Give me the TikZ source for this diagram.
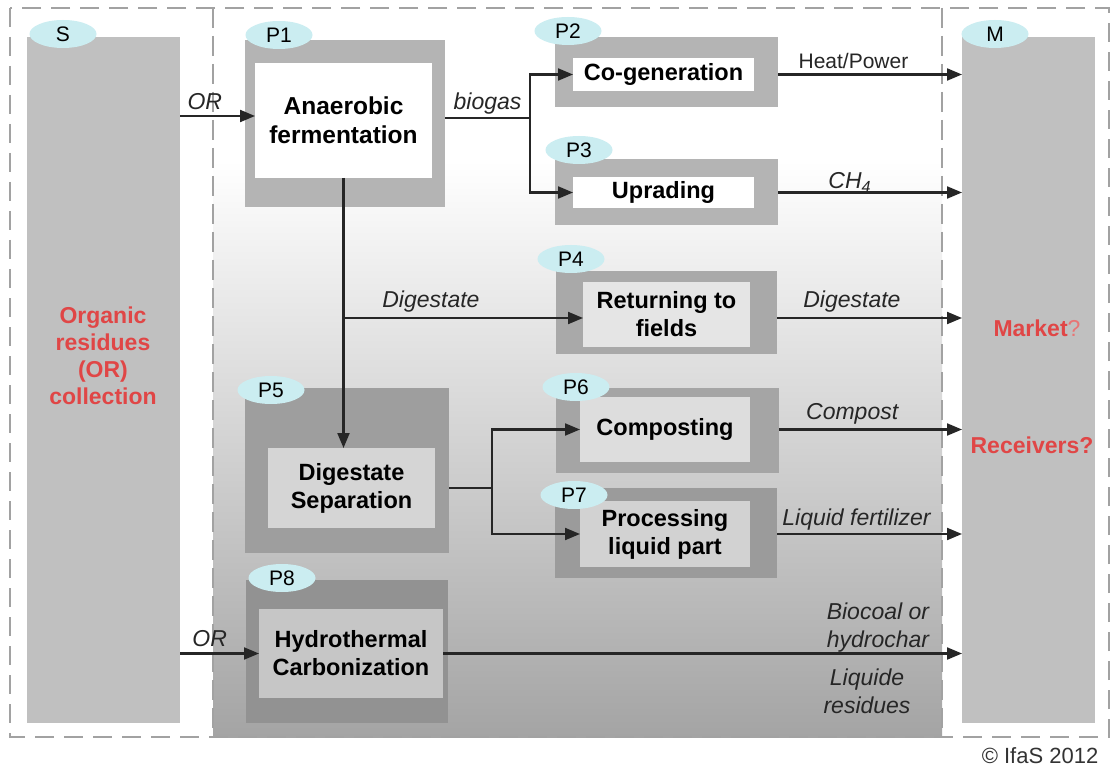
\documentclass[tikz,border=0pt]{standalone}
\usepackage{fontspec}
\setmainfont{Liberation Sans}
\usetikzlibrary{shapes.geometric,arrows.meta}

\definecolor{column}{HTML}{C0C0C0}
\definecolor{tagfill}{HTML}{CBEDF1}
\definecolor{alertred}{HTML}{E04646}
\definecolor{dashgray}{HTML}{A2A2A2}
\definecolor{wirecol}{HTML}{262626}
\definecolor{frameA}{HTML}{B4B4B4}
\definecolor{frameB}{HTML}{A9A9A9}
\definecolor{frameC}{HTML}{9E9E9E}
\definecolor{frameD}{HTML}{A5A5A5}
\definecolor{frameE}{HTML}{9B9B9B}
\definecolor{frameF}{HTML}{929292}
\definecolor{coreB}{HTML}{E5E5E5}
\definecolor{coreC}{HTML}{D5D5D5}
\definecolor{coreD}{HTML}{DDDDDD}
\definecolor{coreE}{HTML}{D2D2D2}
\definecolor{coreF}{HTML}{C6C6C6}
\definecolor{shadeMid}{HTML}{D8D8D8}
\definecolor{shadeLow}{HTML}{A4A4A4}

\newcommand\txtsize{\fontsize{23}{28}\selectfont}
\newcommand\boxsize{\fontsize{23.5}{28}\selectfont}
\newcommand\bigboxsize{\fontsize{24.5}{29}\selectfont}
\newcommand\tagsize{\fontsize{21}{25}\selectfont}

\begin{document}
\begin{tikzpicture}[x=1pt,y=-1pt,
  outerframe/.style={draw=dashgray, line width=2.5pt, dash pattern=on 19pt off 10pt},
  innerframe/.style={draw=dashgray, line width=1.5pt, dash pattern=on 20pt off 8pt},
  block/.style={anchor=north west, inner sep=0pt, outer sep=0pt, draw=none},
  shell/.style={block, fill=#1},
  core/.style={block, fill=#1, font=\boxsize\bfseries, align=center},
  tag/.style={ellipse, fill=tagfill, minimum width=67pt, minimum height=28pt,
              inner sep=0pt, font=\tagsize},
  wire/.style={draw=wirecol, line width=2.1pt},
  flow/.style={wire, -{Triangle[length=15pt,width=12pt]}},
  lbl/.style={font=\txtsize\itshape, inner sep=0pt, anchor=base, text=black!85},
  redtext/.style={font=\txtsize\bfseries, text=alertred, align=center},
]
\useasboundingbox (0,0) rectangle (1113,767);
\fill[white] (0,0) rectangle (1113,767);

% process area with its vertical gradient
\fill[white] (213,8) rectangle (942,161);
\shade[top color=white, middle color=shadeMid, bottom color=shadeLow]
  (213,160) rectangle (942,737);

% dashed frames
\draw[outerframe] (10,8) rectangle (1109,737);
\draw[innerframe] (213,8) -- (213,737);
\draw[innerframe] (942,8) -- (942,737);

% source and market columns
\node[shell=column, minimum width=153pt, minimum height=686pt] (scol) at (27,37) {};
\node[shell=column, minimum width=133pt, minimum height=686pt] (mcol) at (962,37) {};
\node[redtext, font=\fontsize{23}{27}\selectfont\bfseries] (stext) at (103,356)
  {Organic\\residues\\(OR)\\collection};
\node[redtext] (mkt) at (1037,328) {Market{\mdseries\color{alertred!75}?}};
\node[redtext] (rcv) at (1032,445) {Receivers?};

% process blocks
\node[shell=frameA, minimum width=200pt, minimum height=167pt] (p1o) at (245,40) {};
\node[core=white, font=\bigboxsize\bfseries, minimum width=177pt, minimum height=115pt] (p1) at (255,63) {Anaerobic\\fermentation};

\node[shell=frameA, minimum width=223pt, minimum height=70pt] (p2o) at (555,37) {};
\node[core=white, minimum width=181pt, minimum height=33pt] (p2) at (573,58) {Co-generation};

\node[shell=frameA, minimum width=223pt, minimum height=66pt] (p3o) at (555,159) {};
\node[core=white, minimum width=181pt, minimum height=31pt] (p3) at (573,177) {Uprading};

\node[shell=frameB, minimum width=221pt, minimum height=83pt] (p4o) at (556,271) {};
\node[core=coreB, minimum width=167pt, minimum height=65pt] (p4) at (583,282) {Returning to\\fields};

\node[shell=frameC, minimum width=204pt, minimum height=165pt] (p5o) at (245,388) {};
\node[core=coreC, minimum width=167pt, minimum height=80pt] (p5) at (268,448) {Digestate\\Separation};

\node[shell=frameD, minimum width=223pt, minimum height=85pt] (p6o) at (556,388) {};
\node[core=coreD, minimum width=170pt, minimum height=65pt] (p6) at (580,397) {Composting};

\node[shell=frameE, minimum width=222pt, minimum height=90pt] (p7o) at (555,488) {};
\node[core=coreE, minimum width=170pt, minimum height=66pt] (p7) at (580,501) {Processing\\liquid part};

\node[shell=frameF, minimum width=202pt, minimum height=143pt] (p8o) at (246,580) {};
\node[core=coreF, minimum width=184pt, minimum height=89pt] (p8) at (259,609) {Hydrothermal\\Carbonization};

% stage tags
\node[tag] (tS) at (63,34) {S};
\node[tag] (tM) at (995,34) {M};
\node[tag] (t1) at (279,35) {P1};
\node[tag] (t2) at (568,31) {P2};
\node[tag] (t3) at (579,150) {P3};
\node[tag] (t4) at (571,259) {P4};
\node[tag] (t5) at (271,390) {P5};
\node[tag] (t6) at (576,387) {P6};
\node[tag] (t7) at (574,495) {P7};
\node[tag] (t8) at (282,578) {P8};

% junction points
\coordinate (orin) at (255,116);
\coordinate (bout) at (445,118);
\coordinate (bsplit) at (530,118);
\coordinate (dsplit) at (343.5,318);
\coordinate (ssplit) at (492,488);

% flows
\draw[flow] (orin -| scol.east) -- node[lbl, pos=.33, yshift=6pt] (lor1) {OR} (orin);
\draw[wire] (bout) -- node[lbl, pos=.5, yshift=8pt] (lbio) {biogas} (bsplit);
\draw[flow] (bsplit) |- (p2.west);
\draw[flow] (bsplit) |- (p3.west);
\draw[flow] (p2.west -| p2o.east) -- node[lbl, font=\fontsize{21}{25}\selectfont, pos=.41, yshift=6pt] (lheat) {Heat/Power} (p2.west -| mcol.west);
\draw[flow] (p3.west -| p3o.east) -- node[lbl, pos=.39, yshift=4pt] (lch) {CH\textsubscript{4}} (p3.west -| mcol.west);

\draw[flow] (p1.south) -- (p1.south |- p5.north);
\draw[flow] (dsplit) -- node[lbl, pos=.365, yshift=11pt] (ldig1) {Digestate} (dsplit -| p4.west);
\draw[flow] (dsplit -| p4o.east) -- node[lbl, pos=.405, yshift=11pt] (ldig2) {Digestate} (dsplit -| mcol.west);

\draw[wire] (p5.east -| p5o.east) -- (ssplit);
\draw[flow] (ssplit) |- (p6.west);
\draw[flow] (ssplit) |- (p7.west);
\draw[flow] (p6.west -| p6o.east) -- node[lbl, pos=.40, yshift=10pt] (lcomp) {Compost} (p6.west -| mcol.west);
\draw[flow] (p7.west -| p7o.east) -- node[lbl, pos=.43, yshift=9pt] (lliq) {Liquid fertilizer} (p7.west -| mcol.west);

\draw[flow] (p8.west -| scol.east) -- node[lbl, pos=.375, yshift=7pt] (lor2) {OR} (p8.west);
\draw[flow] (p8.east) -- node[lbl, align=center, anchor=south, pos=.838] (lcoal) {Biocoal or\\hydrochar}
  node[lbl, align=center, anchor=north, pos=.817, yshift=-14pt] (lres) {Liquide\\residues}
  (p8.east -| mcol.west);

\node[font=\fontsize{22}{26}\selectfont, text=black!80] (copy) at (1040,756) {© IfaS 2012};
\end{tikzpicture}
\end{document}
